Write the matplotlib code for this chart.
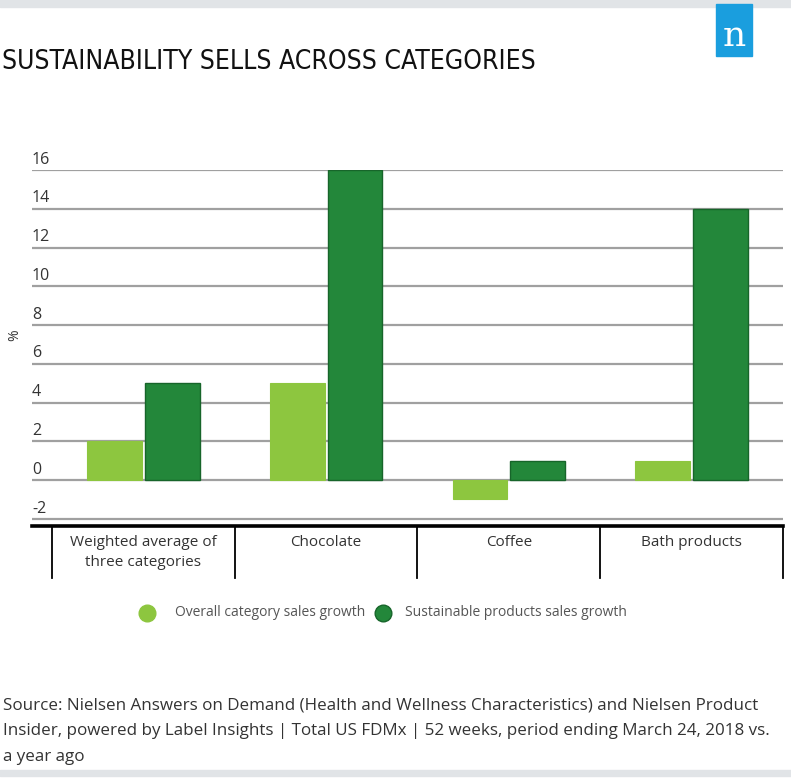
import matplotlib.pyplot as plt
from matplotlib.patches import Rectangle
from matplotlib.lines import Line2D
from matplotlib import font_manager
from matplotlib.font_manager import FontProperties
import numpy as np

categories = ["Weighted average of\nthree categories", "Chocolate", "Coffee", "Bath products"]
overall_growth = [2, 5, -1, 1]
sustainable_growth = [5, 16, 1, 14]
y_ticks = [-2, 0, 2, 4, 6, 8, 10, 12, 14, 16]
series_names = ["Overall category sales growth", "Sustainable products sales growth"]

LIGHT = "#8dc63f"
DARK = "#23873a"
DARK_EDGE = "#17652a"
W, H = 791, 782

fig = plt.figure(figsize=(W / 100, H / 100), dpi=100)
fig.patch.set_facecolor("white")


def fx(px):
    return px / W


def fy(py):
    return 1 - py / H


ax = fig.add_axes([fx(32), fy(526), fx(783) - fx(32), fy(170) - fy(526)])
ax.set_xlim(-0.609, 3.5)
ax.set_ylim(-2.37, 16)
for s in ax.spines.values():
    s.set_visible(False)
ax.set_xticks([])
ax.set_yticks([])

# grid lines with labels sitting above them
for t in y_ticks:
    ax.axhline(t, color="#a0a0a0", lw=1.6, zorder=1)
    ax.text(0.0, t + 0.12, str(t), transform=ax.get_yaxis_transform(),
            ha="left", va="bottom", fontsize=11.5, family="Open Sans", color="#333333")

x = np.arange(len(categories))
bw = 0.30
gap = 0.008
ax.bar(x - bw / 2 - gap, overall_growth, bw, color=LIGHT, edgecolor=LIGHT, lw=0.8, zorder=3)
ax.bar(x + bw / 2 + gap, sustainable_growth, bw, color=DARK, edgecolor=DARK_EDGE, lw=1.0, zorder=3)

# bottom axis and category separators
ax.plot([0, 1], [0, 0], transform=ax.transAxes, color="black", lw=2.6, clip_on=False, zorder=4)
trans = ax.get_xaxis_transform()
sep_depth = -52 / 356
for b in np.arange(-0.5, len(categories), 1.0):
    ax.add_line(Line2D([b, b], [0, sep_depth], transform=trans, color="black", lw=1.3, clip_on=False))
for i, c in enumerate(categories):
    ax.text(x[i], -0.025, c, transform=trans, ha="center", va="top", fontsize=11,
            family="Open Sans", color="#333333", linespacing=1.45)

fig.text(fx(15), fy(335), "%", rotation=90, ha="center", va="center", fontsize=10,
         family="Open Sans", color="#333333")

# title: use an upright condensed face if one is installed, then fit its width
title_prop = FontProperties(family="Roboto")
cands = []
for f in font_manager.fontManager.ttflist:
    narrow = f.stretch in ("condensed", "semi-condensed", "extra-condensed", "ultra-condensed") \
        or "Condensed" in f.name or "Narrow" in f.name
    if narrow and f.style == "normal" and f.weight in (300, 400, "light", "normal", "regular", "book"):
        cands.append(f)
if cands:
    cands.sort(key=lambda f: (abs((f.weight if isinstance(f.weight, int) else 400) - 400), f.fname))
    title_prop = FontProperties(fname=cands[0].fname)
title = fig.text(fx(2), fy(62), "SUSTAINABILITY SELLS ACROSS CATEGORIES", ha="left", va="center",
                 fontproperties=title_prop, color="#111111")
title.set_fontsize(27)
renderer = fig.canvas.get_renderer()
tw = title.get_window_extent(renderer).width
title.set_fontsize(27 * 533 / tw)

# top and bottom grey bands
fig.patches.append(Rectangle((0, fy(7)), 1, fy(0) - fy(7), transform=fig.transFigure,
                             color="#e1e4e7", zorder=0))
fig.patches.append(Rectangle((0, fy(776)), 1, fy(770) - fy(776), transform=fig.transFigure,
                             color="#e1e4e7", zorder=0))

# logo
fig.patches.append(Rectangle((fx(716), fy(56)), fx(752) - fx(716), fy(4) - fy(56),
                             transform=fig.transFigure, color="#1a9ede", zorder=2))
fig.text(fx(734), fy(36), "n", ha="center", va="center", fontsize=26, family="DejaVu Serif",
         color="white", zorder=3)

# legend
leg_y = fy(613)
for cx, tx, col, ec, name in [(147, 175, LIGHT, LIGHT, series_names[0]),
                              (383, 405, DARK, DARK_EDGE, series_names[1])]:
    fig.add_artist(Line2D([fx(cx)], [leg_y], marker="o", markersize=12, color=col,
                          markeredgecolor=ec, transform=fig.transFigure))
    fig.text(fx(tx), leg_y, name, ha="left", va="center", fontsize=10, family="Open Sans",
             color="#555555")

# source note
source = ("Source: Nielsen Answers on Demand (Health and Wellness Characteristics) and Nielsen Product\n"
          "Insider, powered by Label Insights | Total US FDMx | 52 weeks, period ending March 24, 2018 vs.\n"
          "a year ago")
fig.text(fx(3), fy(697), source, ha="left", va="top", fontsize=12.25, family="Open Sans",
         color="#333333", linespacing=1.85)

fig.savefig("out.png", dpi=100)
